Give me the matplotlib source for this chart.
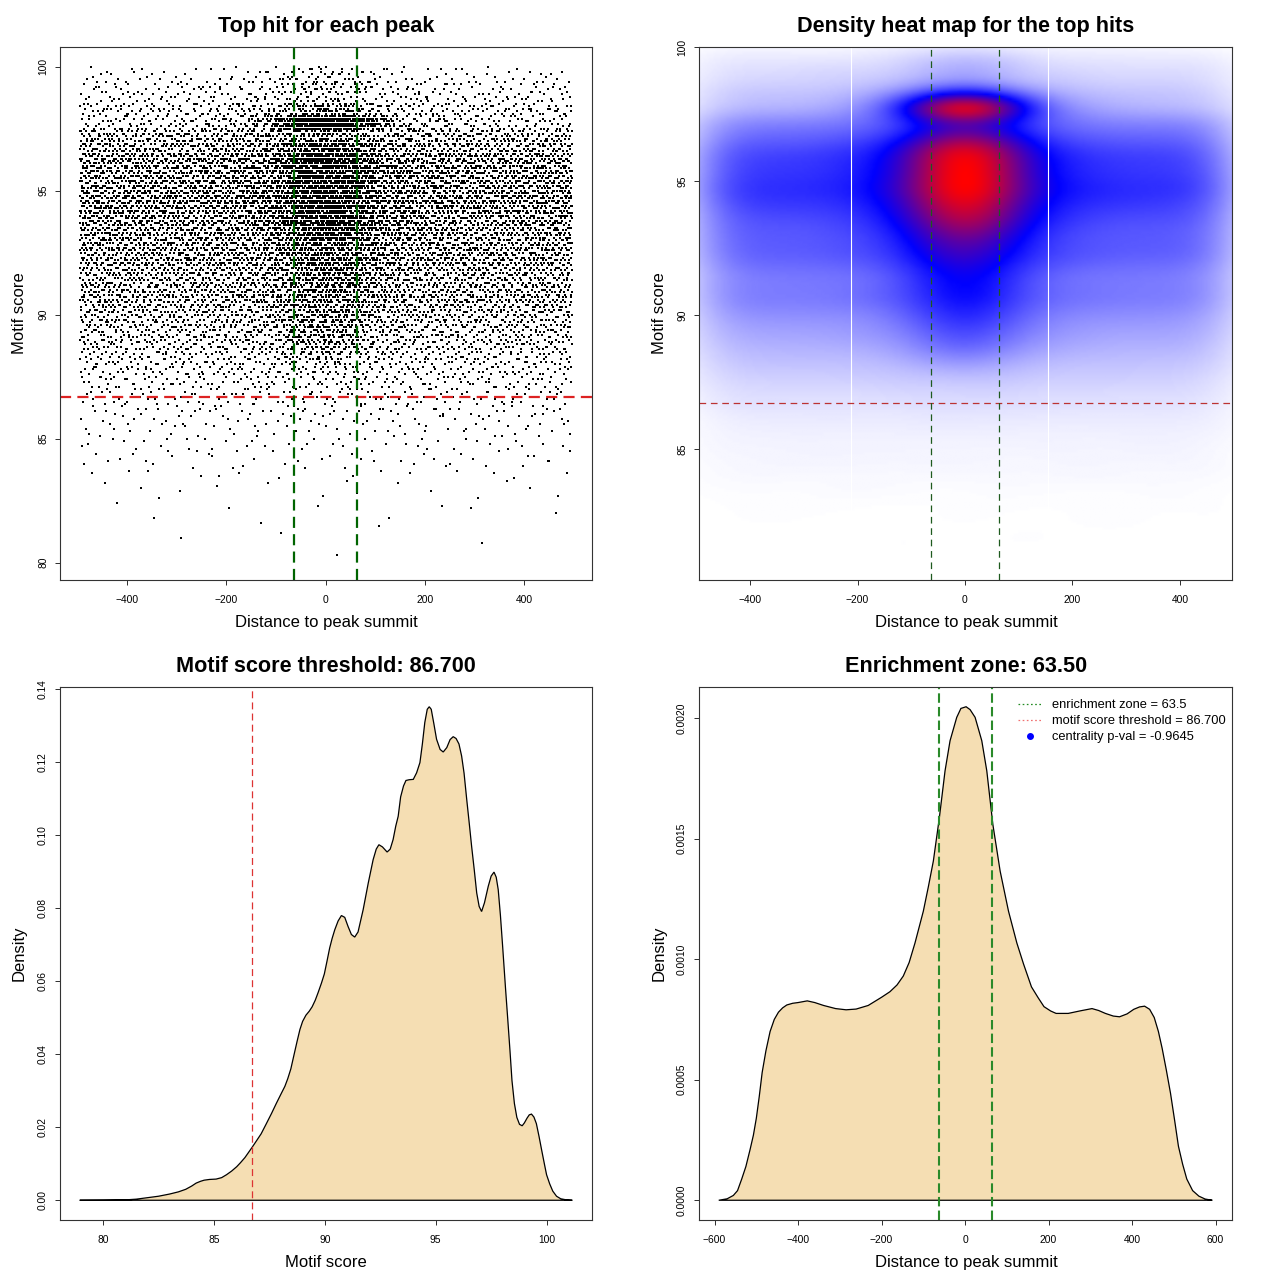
import numpy as np
import matplotlib
matplotlib.use('Agg')
import matplotlib.pyplot as plt
from matplotlib.colors import LinearSegmentedColormap
from matplotlib.lines import Line2D

plt.rcParams['font.family'] = ['Liberation Sans', 'DejaVu Sans']
plt.rcParams['lines.scale_dashes'] = False

# ------------------------------------------------------------------ data
enrichment_zone = 63.5
score_threshold = 86.7
centrality_pval = -0.9645

# top hits: counts per motif-score bin (0.5 wide), background (spread over the peak) and central
score_bin_edges = [80.1, 80.5, 81.0, 81.5, 82.0, 82.5, 83.0, 83.5, 84.0, 84.5,
                   85.0, 85.5, 86.0, 86.5, 87.0, 87.5, 88.0, 88.5, 89.0, 89.5,
                   90.0, 90.5, 91.0, 91.5, 92.0, 92.5, 93.0, 93.5, 94.0, 94.5,
                   95.0, 95.5, 96.0, 96.5, 97.0, 97.5, 98.0, 98.5, 99.0, 99.5, 100.0]
bg_counts = [1, 1, 3, 3, 6, 7, 11, 20, 31, 38,
             42, 56, 73, 101, 129, 171, 208, 253, 296, 338,
             403, 461, 415, 467, 548, 544, 553, 605, 656, 720,
             650, 659, 600, 480, 430, 200, 225, 133, 119, 63]
center_counts = [0, 0, 0, 0, 0, 0, 0, 0, 0, 0,
                 0, 0, 3, 4, 7, 11, 30, 55, 68, 75,
                 80, 85, 92, 100, 110, 128, 175, 200, 210, 230,
                 230, 235, 230, 160, 70, 480, 110, 28, 42, 28]
bg_dist_range = [-495, 497]
center_dist_edges = [-250, -225, -200, -175, -150, -125, -100, -75, -50, -25, 0,
                     25, 50, 75, 100, 125, 150, 175, 200, 225, 250]
center_dist_weights = [1, 1, 1, 2, 3, 5, 9, 14, 19, 21, 21, 19, 14, 9, 5, 3, 2, 1, 1, 1]

# motif score density curve (bottom left)
score_x = [78.95, 80.0, 81.0, 81.5, 82.0, 82.5, 83.0, 83.4, 83.73, 84.0, 84.2, 84.4,
           84.56, 84.8, 85.1, 85.35, 85.57, 85.8, 86.03, 86.2, 86.4, 86.7, 86.9, 87.13,
           87.35, 87.6, 87.82, 88.05, 88.2, 88.33, 88.47, 88.6, 88.75, 88.88, 89.0,
           89.15, 89.3, 89.43, 89.57, 89.7, 89.85, 89.98, 90.1, 90.22, 90.33, 90.45,
           90.6, 90.75, 90.9, 91.05, 91.2, 91.35, 91.5, 91.73, 91.96, 92.18, 92.32,
           92.44, 92.6, 92.81, 92.95, 93.08, 93.2, 93.31, 93.42, 93.55, 93.66, 93.8,
           93.99, 94.14, 94.29, 94.4, 94.51, 94.62, 94.71, 94.8, 94.92, 95.04, 95.2,
           95.34, 95.5, 95.65, 95.79, 95.92, 96.05, 96.17, 96.28, 96.4, 96.51, 96.62,
           96.74, 96.85, 96.96, 97.07, 97.2, 97.37, 97.5, 97.63, 97.73, 97.82, 97.92,
           98.02, 98.15, 98.25, 98.35, 98.44, 98.55, 98.66, 98.78, 98.9, 99.0, 99.12,
           99.22, 99.32, 99.43, 99.54, 99.66, 99.78, 99.9, 100.0, 100.14, 100.28,
           100.45, 100.64, 100.9, 101.16]
score_density = [0.0, 0.00003, 0.0001, 0.0003, 0.0007, 0.0011, 0.0017, 0.0023, 0.003,
                 0.0039, 0.0047, 0.0052, 0.0055, 0.0057, 0.0058, 0.0062, 0.007, 0.008,
                 0.0092, 0.0103, 0.0117, 0.0143, 0.0161, 0.0182, 0.0208, 0.0238, 0.0266,
                 0.0294, 0.0312, 0.0333, 0.036, 0.0395, 0.0435, 0.0468, 0.049, 0.0507,
                 0.0518, 0.053, 0.0548, 0.0569, 0.0595, 0.062, 0.0655, 0.0691, 0.0717,
                 0.0741, 0.0765, 0.078, 0.0775, 0.075, 0.0728, 0.0721, 0.0735, 0.0796,
                 0.0869, 0.0933, 0.0962, 0.0974, 0.0968, 0.0954, 0.0962, 0.0988, 0.1025,
                 0.1052, 0.1105, 0.1135, 0.115, 0.1152, 0.1153, 0.1171, 0.1199, 0.125,
                 0.1309, 0.1345, 0.1352, 0.1345, 0.1305, 0.1263, 0.1235, 0.1228, 0.124,
                 0.1262, 0.127, 0.1265, 0.125, 0.1217, 0.117, 0.1098, 0.1035, 0.097,
                 0.0905, 0.0842, 0.0805, 0.0791, 0.0815, 0.086, 0.0888, 0.0899, 0.0885,
                 0.0851, 0.078, 0.0695, 0.058, 0.0496, 0.041, 0.0328, 0.0265, 0.0227,
                 0.0208, 0.0204, 0.0212, 0.0225, 0.0234, 0.0236, 0.0228, 0.021, 0.0175,
                 0.0137, 0.01, 0.007, 0.0045, 0.0025, 0.0011, 0.0004, 0.0001, 0.0]

# distance density curve (bottom right)
dist_x = [-590, -570, -555, -545, -535, -525, -515, -507, -500, -493, -486, -477, -467,
          -457, -447, -437, -427, -413, -400, -378, -360, -339, -310, -285, -261, -232,
          -200, -180, -163, -148, -134, -120, -100, -88, -76, -61.6, -48, -36, -20, -10,
          2.4, 12, 24, 40, 52, 66.5, 84, 104, 124, 140, 159, 175, 189, 205, 218, 247,
          277, 304, 320, 336, 355, 370, 388, 404, 418, 430, 442, 453, 463, 472, 482,
          492, 502, 511, 521, 531, 545, 560, 575, 592]
dist_density = [0.0, 0.000006, 0.00002, 0.00004, 0.000088, 0.00014, 0.00021, 0.00027,
                0.00034, 0.00043, 0.00053, 0.00062, 0.0007, 0.00075, 0.00078, 0.000798,
                0.00081, 0.000817, 0.00082, 0.000827, 0.00082, 0.000808, 0.000795, 0.00079,
                0.000793, 0.000808, 0.000842, 0.000865, 0.000893, 0.00093, 0.000986,
                0.001067, 0.001199, 0.0013, 0.001407, 0.001587, 0.001781, 0.001906,
                0.002003, 0.00204, 0.002047, 0.002035, 0.002003, 0.001906, 0.001781,
                0.001559, 0.001365, 0.001199, 0.001067, 0.00098, 0.000885, 0.00084,
                0.000803, 0.000785, 0.000775, 0.000775, 0.000786, 0.000795, 0.000787,
                0.000775, 0.000764, 0.000761, 0.000773, 0.000792, 0.000802, 0.000805,
                0.000792, 0.000758, 0.0007, 0.00063, 0.00054, 0.000444, 0.00033, 0.000224,
                0.00015, 0.000088, 0.00004, 0.000017, 0.000005, 0.0]

heatmap_seams = [-212, 154]   # white rendering seams visible in the heat map


# ------------------------------------------------------------------ point layout
def halton(idx, base):
    out = np.zeros(len(idx))
    for j, k in enumerate(idx):
        f, r = 1.0, 0.0
        while k > 0:
            f /= base
            r += f * (k % base)
            k //= base
        out[j] = r
    return out


def from_hist(u, edges, counts):
    cdf = np.concatenate([[0.0], np.cumsum(counts)]) / float(np.sum(counts))
    return np.interp(u, cdf, edges)


n_bg = int(np.sum(bg_counts))
n_c = int(np.sum(center_counts))
idx_bg = np.arange(1, n_bg + 1)
idx_c = np.arange(n_bg + 1, n_bg + n_c + 1)

x_bg = np.round(bg_dist_range[0] + (bg_dist_range[1] - bg_dist_range[0]) * halton(idx_bg, 2))
y_bg = np.round(from_hist(halton(idx_bg, 3), score_bin_edges, bg_counts) * 10) / 10
x_c = np.round(from_hist(halton(idx_c, 2), center_dist_edges, center_dist_weights))
y_c = np.round(from_hist(halton(idx_c, 3), score_bin_edges, center_counts) * 10) / 10

dist = np.concatenate([x_bg, x_c])
score = np.concatenate([y_bg, y_c])

x_lo, x_hi = bg_dist_range
y_lo, y_hi = score_bin_edges[0], score_bin_edges[-1]

# ------------------------------------------------------------------ figure
fig = plt.figure(figsize=(12.8, 12.8), dpi=100)
W = 1280.0


def ax_at(l, t, r, b):
    return fig.add_axes([l / W, 1 - b / W, (r - l) / W, (b - t) / W])


def style(ax):
    for sp in ax.spines.values():
        sp.set_linewidth(0.8)
        sp.set_color('#333333')
    ax.tick_params(direction='out', length=3.6, width=0.72, color='#333333',
                   labelsize=7.4, labelcolor='black')
    ax.tick_params(axis='x', pad=7.0)
    ax.tick_params(axis='y', pad=5.0)


def pad_range(a, b, f=0.04):
    d = b - a
    return a - f * d, b + f * d


def yticks(ax, ticks, fmt):
    ax.set_yticks(ticks)
    ax.set_yticklabels([fmt.format(t) for t in ticks], rotation=90, va='center')


def texts(cx, top, title, xlabel, ylabel):
    fig.text(cx / W, 1 - (top + 32) / W, title, ha='center', va='baseline',
             fontsize=15.6, fontweight='bold')
    fig.text(cx / W, 1 - (top + 627) / W, xlabel, ha='center', va='baseline', fontsize=12)
    fig.text((cx - 302) / W, 1 - (top + 313) / W, ylabel, ha='center', va='baseline',
             rotation=90, rotation_mode='anchor', fontsize=12)


# ---- top left: scatter
ax1 = ax_at(60, 47, 592, 580)
ax1.scatter(dist, score, s=2.6, marker='s', c='black', linewidths=0)
ax1.set_xlim(*pad_range(x_lo, x_hi))
ax1.set_ylim(*pad_range(y_lo, y_hi))
ax1.axhline(score_threshold, color='#dd2222', lw=1.6, dashes=(8, 4.5))
for v in (-enrichment_zone, enrichment_zone):
    ax1.axvline(v, color='#006400', lw=1.6, dashes=(8, 4.5))
ax1.set_xticks([-400, -200, 0, 200, 400])
yticks(ax1, [80, 85, 90, 95, 100], '{:d}')
style(ax1)
texts(326, 0, 'Top hit for each peak', 'Distance to peak summit', 'Motif score')

# ---- top right: density heat map
ax2 = ax_at(699, 47, 1232, 580)
gx = np.linspace(x_lo, x_hi, 220)
gy = np.linspace(y_lo, y_hi, 220)
hx, hy = 55.0, 0.36
Kx = np.exp(-0.5 * ((gx[:, None] - dist[None, :]) / hx) ** 2)
Ky = np.exp(-0.5 * ((gy[:, None] - score[None, :]) / hy) ** 2)
dens2d = Ky @ Kx.T
cmap = LinearSegmentedColormap.from_list('wbr', ['white', 'blue', 'red'])
ax2.imshow(dens2d, origin='lower', extent=[x_lo, x_hi, y_lo, y_hi], aspect='auto',
           cmap=cmap, vmin=0, vmax=dens2d.max(), interpolation='bilinear')
ax2.set_xlim(x_lo, x_hi)
ax2.set_ylim(y_lo, y_hi)
for s in heatmap_seams:
    ax2.axvline(s, color='white', lw=0.8)
ax2.axhline(score_threshold, color='#bb3333', lw=0.9, dashes=(4.8, 3.4))
for v in (-enrichment_zone, enrichment_zone):
    ax2.axvline(v, color='#1e5a1e', lw=0.9, dashes=(4.8, 3.4))
ax2.set_xticks([-400, -200, 0, 200, 400])
yticks(ax2, [85, 90, 95, 100], '{:d}')
style(ax2)
texts(966, 0, 'Density heat map for the top hits', 'Distance to peak summit', 'Motif score')

# ---- bottom left: motif score density
ax3 = ax_at(60, 687, 592, 1220)
ax3.fill(score_x, score_density, facecolor='#F5DEB3', edgecolor='black', lw=0.9)
ax3.set_xlim(*pad_range(min(score_x), max(score_x)))
ax3.set_ylim(*pad_range(0, max(score_density)))
ax3.axvline(score_threshold, color='#dd3333', lw=0.9, dashes=(5, 3))
ax3.set_xticks([80, 85, 90, 95, 100])
yticks(ax3, [0.0, 0.02, 0.04, 0.06, 0.08, 0.10, 0.12, 0.14], '{:.2f}')
style(ax3)
texts(326, 640, 'Motif score threshold: %.3f' % score_threshold, 'Motif score', 'Density')

# ---- bottom right: distance density
ax4 = ax_at(699, 687, 1232, 1220)
ax4.fill(dist_x, dist_density, facecolor='#F5DEB3', edgecolor='black', lw=0.9)
ax4.set_xlim(*pad_range(min(dist_x), max(dist_x)))
ax4.set_ylim(*pad_range(0, max(dist_density)))
for v in (-enrichment_zone, enrichment_zone):
    ax4.axvline(v, color='#2a8a2a', lw=1.5, dashes=(6.8, 3.0))
ax4.set_xticks([-600, -400, -200, 0, 200, 400, 600])
yticks(ax4, [0.0, 0.0005, 0.0010, 0.0015, 0.0020], '{:.4f}')
style(ax4)
texts(966, 640, 'Enrichment zone: %.2f' % enrichment_zone, 'Distance to peak summit', 'Density')

handles = [Line2D([], [], color='#228B22', lw=0.9, dashes=(1.2, 1.8)),
           Line2D([], [], color='#f07070', lw=0.9, dashes=(1.2, 1.8)),
           Line2D([], [], color='blue', ls='none', marker='o', ms=4)]
labels = ['enrichment zone = %.1f' % enrichment_zone,
          'motif score threshold = %.3f' % score_threshold,
          'centrality p-val = %.4f' % centrality_pval]
ax4.legend(handles, labels, loc='upper left', bbox_to_anchor=(0.598, 0.977),
           frameon=False, fontsize=9.3, handlelength=1.9, handletextpad=0.75,
           labelspacing=0.3, borderpad=0, borderaxespad=0)

fig.savefig('out.png', dpi=100)
